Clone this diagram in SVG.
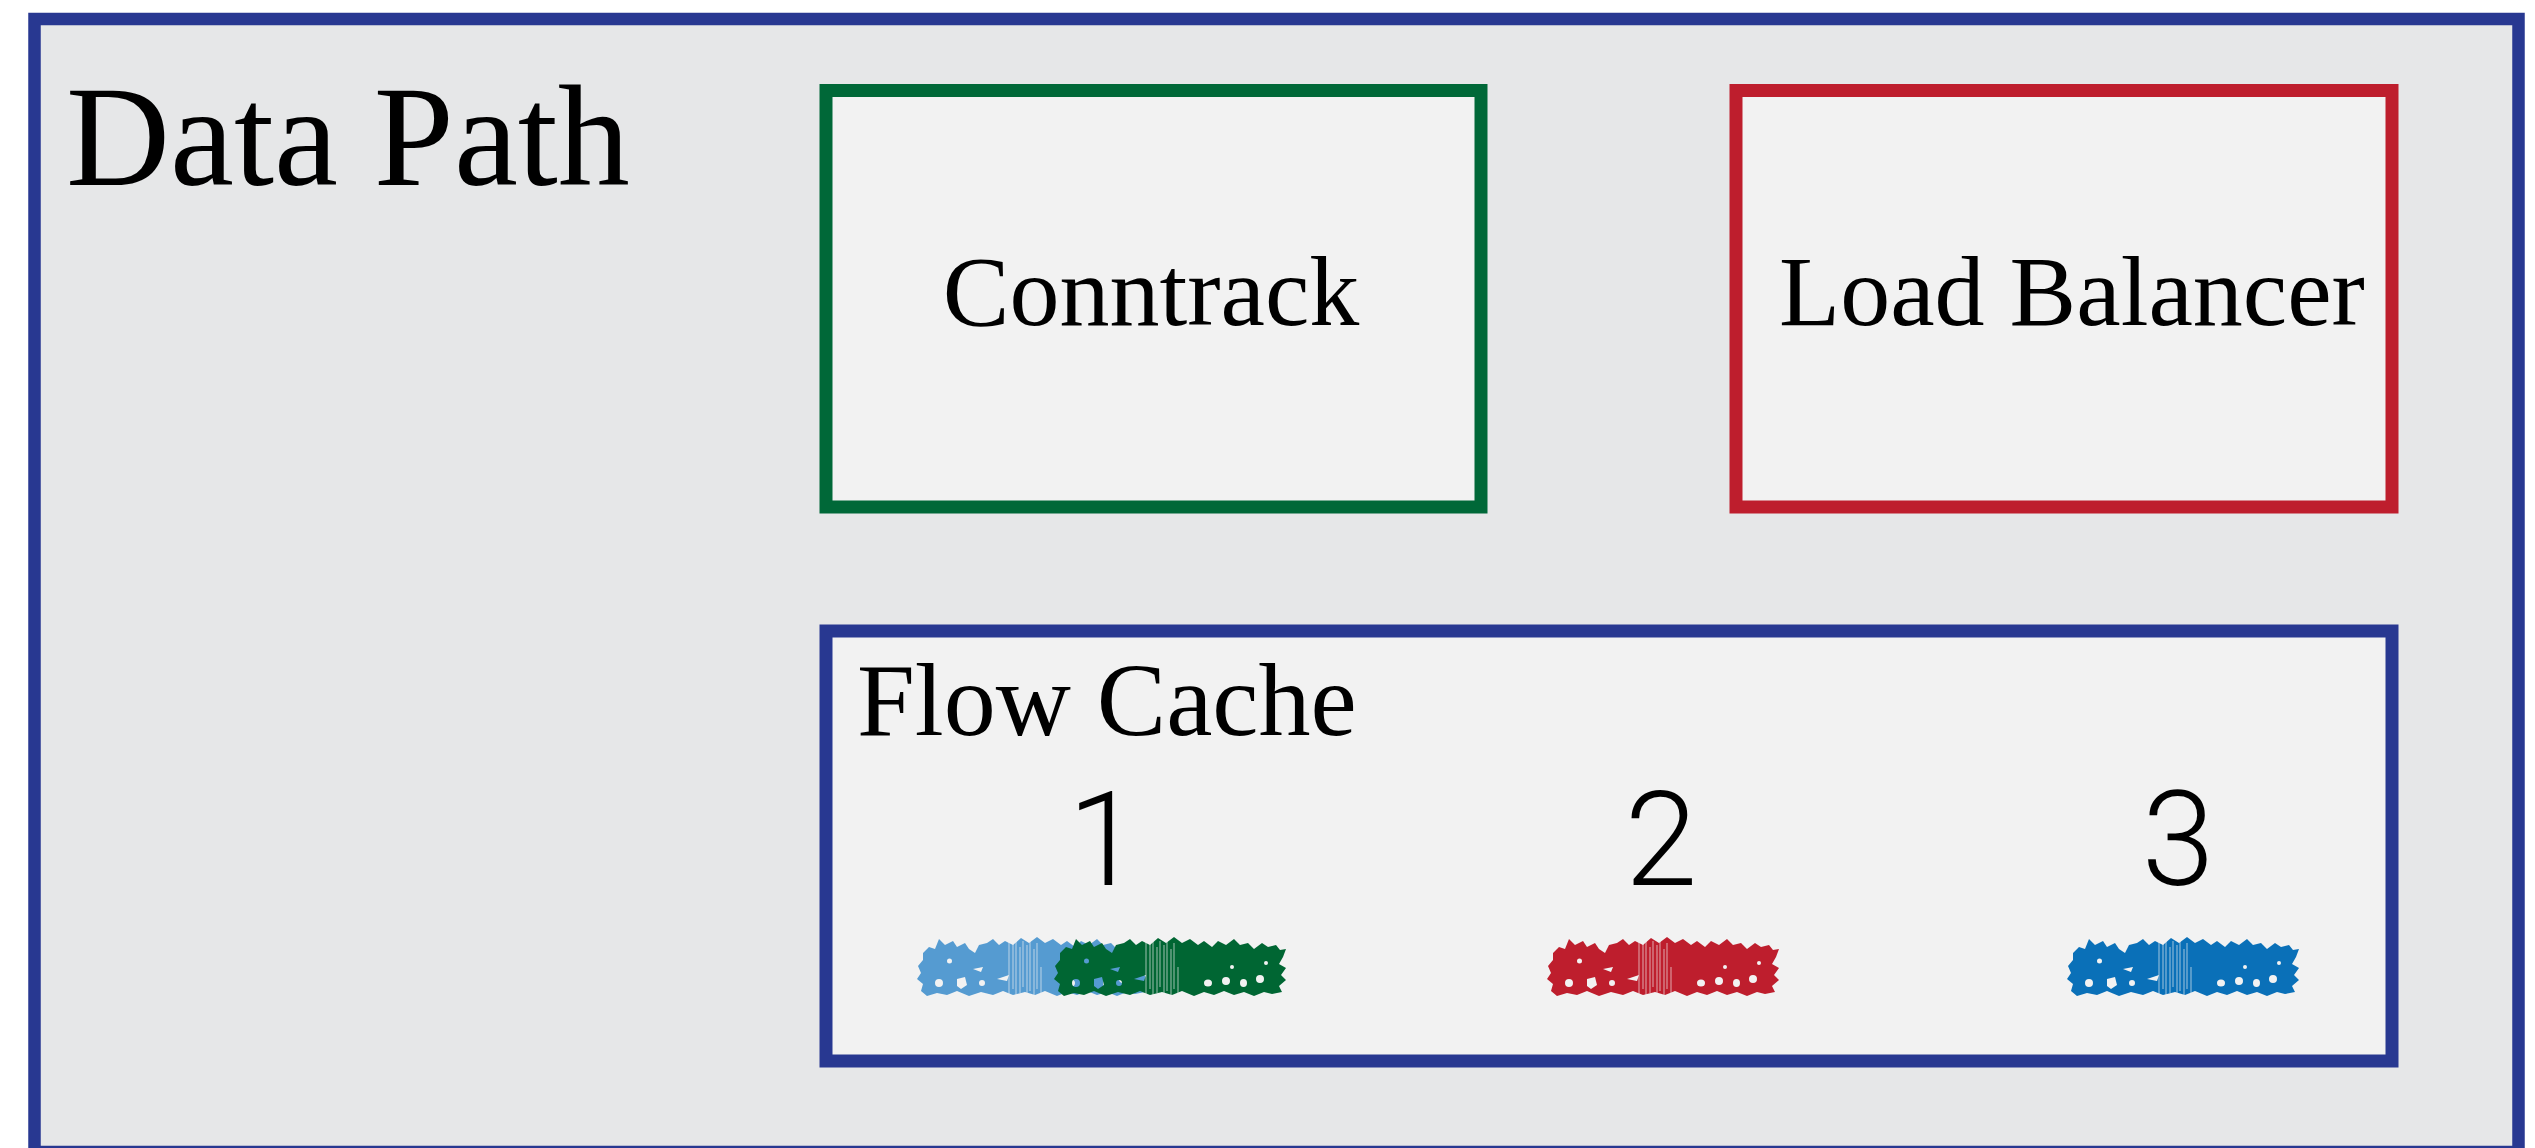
<svg xmlns="http://www.w3.org/2000/svg" xmlns:xlink="http://www.w3.org/1999/xlink" width="2535" height="1148" viewBox="0 0 2535 1148">
  <style>
    .serif { font-family: "Liberation Serif", "Times New Roman", serif; fill: #000; }
    .mid { text-anchor: middle; }
    .num { font-family: Roboto, "Open Sans", "Liberation Sans", sans-serif; font-weight: 300; font-size: 131px; fill: #000; text-anchor: middle; }
    .box { fill: #f2f2f2; stroke-width: 13; }
    .streak { stroke: #f2f2f2; stroke-width: 1.2; stroke-opacity: 0.55; }
  </style>
  <defs>
    <!-- ragged brush-stroke marker used for each cached flow entry -->
    <path id="blob" fill-rule="evenodd" d="M6,16 L12,10 L18,12 L22,2 L28,8 L36,4 L40,10 L48,6 L52,12 L58,16 L62,8 L70,6 L76,2 L82,8 L88,4 L96,8 L104,1 L112,6 L120,0 L128,6 L136,2 L144,8 L150,4 L158,10 L164,4 L172,8 L180,2 L186,8 L194,6 L200,12 L208,6 L214,10 L222,8 L226,13 L232,12 L229,20 L225,27 L232,31 L227,38 L232,43 L225,49 L228,55 L218,57 L210,55 L200,59 L190,55 L180,58 L170,54 L160,58 L150,55 L140,59 L128,54 L118,58 L108,55 L96,58 L86,54 L76,58 L64,55 L52,59 L40,54 L30,58 L20,56 L10,59 L4,54 L6,47 L0,42 L4,36 L1,29 L6,23 Z
      M18,46 a4,4 0 1,0 8,0 a4,4 0 1,0 -8,0 Z
      M40,42 L48,40 L50,48 L44,52 L40,49 Z
      M62,46 a3,3 0 1,0 6,0 a3,3 0 1,0 -6,0 Z
      M30,24 a2.5,2.5 0 1,0 5,0 a2.5,2.5 0 1,0 -5,0 Z
      M56,32 L66,30 L64,35 Z
      M150,46 a4,3.5 0 1,0 8,0 a4,3.5 0 1,0 -8,0 Z
      M168,44 a4,4 0 1,0 8,0 a4,4 0 1,0 -8,0 Z
      M186,46 a3.5,4 0 1,0 7,0 a3.5,4 0 1,0 -7,0 Z
      M202,42 a4,4 0 1,0 8,0 a4,4 0 1,0 -8,0 Z
      M176,30 a2,2 0 1,0 4,0 a2,2 0 1,0 -4,0 Z
      M210,26 a2,2 0 1,0 4,0 a2,2 0 1,0 -4,0 Z
      M80,42 L92,38 L90,44 Z"/>
    <g id="streaks" class="streak">
      <line x1="92" y1="2" x2="92" y2="58"/>
      <line x1="96" y1="6" x2="96" y2="52"/>
      <line x1="99" y1="3" x2="99" y2="58"/>
      <line x1="103" y1="10" x2="103" y2="56"/>
      <line x1="106" y1="4" x2="106" y2="50"/>
      <line x1="110" y1="8" x2="110" y2="58"/>
      <line x1="113" y1="2" x2="113" y2="54"/>
      <line x1="117" y1="12" x2="117" y2="58"/>
      <line x1="120" y1="6" x2="120" y2="52"/>
      <line x1="124" y1="30" x2="124" y2="58"/>
    </g>
  </defs>

  <rect x="0" y="0" width="2535" height="1148" fill="#ffffff"/>

  <!-- enclosing data path frame (bottom edge runs past the canvas) -->
  <g id="data-path">
    <rect x="34.5" y="19" width="2484" height="1133" fill="#e6e7e8" stroke="#283891" stroke-width="12.5"/>
    <text class="serif" x="66" y="185" font-size="144">Data Path</text>
  </g>

  <g id="conntrack">
    <rect class="box" x="826" y="90.5" width="655" height="416.5" stroke="#006838"/>
    <text class="serif mid" x="1151" y="325" font-size="100">Conntrack</text>
  </g>

  <g id="load-balancer">
    <rect class="box" x="1736" y="90.5" width="656" height="416.5" stroke="#be1e2d"/>
    <text class="serif mid" x="2072" y="325" font-size="100">Load Balancer</text>
  </g>

  <g id="flow-cache">
    <rect class="box" x="826" y="631" width="1566" height="430" stroke="#283891"/>
    <text class="serif" x="857" y="735" font-size="104">Flow Cache</text>

    <g id="entry-1">
      <text class="num" x="1104" y="885">1</text>
      <use xlink:href="#blob" x="917" y="937" fill="#559bd1"/>
      <use xlink:href="#streaks" x="917" y="937"/>
      <use xlink:href="#blob" x="1054" y="937" fill="#006633"/>
      <use xlink:href="#streaks" x="1054" y="937"/>
    </g>
    <g id="entry-2">
      <text class="num" x="1661" y="885">2</text>
      <use xlink:href="#blob" x="1547" y="937" fill="#be1e2d"/>
      <use xlink:href="#streaks" x="1547" y="937"/>
    </g>
    <g id="entry-3">
      <text class="num" x="2178" y="885">3</text>
      <use xlink:href="#blob" x="2067" y="937" fill="#0a70b8"/>
      <use xlink:href="#streaks" x="2067" y="937"/>
    </g>
  </g>

  <g id="connectors"/>
</svg>
